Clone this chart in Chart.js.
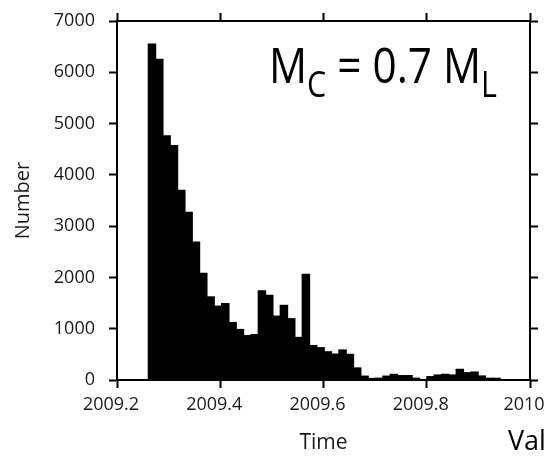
<!DOCTYPE html>
<html>
<head>
<meta charset="utf-8">
<script src="https://cdn.jsdelivr.net/npm/chart.js@4.4.1/dist/chart.umd.min.js"></script>
<style>
  html,body{margin:0;padding:0;background:#fff;}
  #wrap{width:548px;height:456px;position:relative;}
</style>
</head>
<body>
<div id="wrap"><canvas id="cv"></canvas></div>
<script>
// ===== 資料 =====
// 各 bin 的事件數
const counts = [6550, 6250, 4760, 4570, 3700, 3270, 2690, 2080, 1620, 1440,
                1490, 1120, 985, 865, 885, 1740, 1650, 1245, 1455, 1195,
                830, 2060, 670, 630, 550, 505, 585, 500, 235, 75,
                30, 35, 75, 110, 85, 85, 35, 8, 65, 97,
                110, 97, 208, 142, 155, 78, 33, 33];
const BIN_START = 2009.2606;   // 第一個 bin 左緣 (年)
const BIN_W = 0.0142;          // bin 寬 (年)
const xTicks = [2009.2, 2009.4, 2009.6, 2009.8, 2010];
const yTicks = [0, 1000, 2000, 3000, 4000, 5000, 6000, 7000];
const X_TITLE = 'Time', Y_TITLE = 'Number';
const NOTE = 'Val';

const binMid = counts.map((_, i) => BIN_START + (i + 0.5) * BIN_W);
const pts = counts.map((v, i) => ({ x: binMid[i], y: v }));

// ===== 文字外掛 =====
const FONT = '"Open Sans", sans-serif';
const labelPlugin = {
  id: 'labels',
  afterDraw(c) {
    const { ctx } = c;
    ctx.save();
    ctx.fillStyle = '#000';
    ctx.textBaseline = 'alphabetic';
    // M_C = 0.7 M_L
    const parts = [['M', 50, 83], ['C', 36, 97], [' = 0.7 M', 50, 83], ['L', 36, 97]];
    let w = 0;
    parts.forEach(([t, sz]) => { ctx.font = `${sz}px ${FONT}`; w += ctx.measureText(t).width; });
    const s = 228 / w;
    ctx.translate(269, 0); ctx.scale(s, 1);
    let x = 0;
    parts.forEach(([t, sz, y]) => { ctx.font = `${sz}px ${FONT}`; ctx.fillText(t, x, y); x += ctx.measureText(t).width; });
    ctx.restore();

    ctx.save();
    ctx.fillStyle = '#000';
    ctx.font = `27px ${FONT}`;
    ctx.translate(508, 450);
    ctx.fillText(NOTE, 0, 0);
    ctx.restore();
  }
};

// 固定軸的大小，並去掉標籤溢出造成的額外留白
const fixW = w => s => { s.width = w; s.paddingTop = 0; s.paddingBottom = 0; };
const fixH = h => s => { s.height = h; s.paddingLeft = 0; s.paddingRight = 0; };
const gridOpt = { offset: false, drawOnChartArea: false, drawTicks: true, tickLength: 8, tickWidth: 2, tickColor: '#000' };
const borderOpt = { display: true, color: '#000', width: 2 };

new Chart(document.getElementById('cv'), {
  type: 'bar',
  data: {
    datasets: [{ data: pts, backgroundColor: '#000', borderWidth: 0, inflateAmount: 0.6,
                 barPercentage: 1, categoryPercentage: 1 }]
  },
  options: {
    responsive: true, maintainAspectRatio: false, animation: false,
    layout: { padding: 0 },
    plugins: { legend: { display: false }, tooltip: { enabled: false } },
    scales: {
      x: {
        type: 'linear', position: 'bottom', min: 2009.2, max: 2010, offset: false,
        afterBuildTicks: s => { s.ticks = xTicks.map(v => ({ value: v })); },
        afterFit: fixH(76),
        grid: gridOpt, border: borderOpt,
        ticks: { color: '#1a1a1a', font: { family: 'Open Sans', size: 18 }, padding: 6, maxRotation: 0,
                 labelOffset: -6, callback: v => String(Math.round(v * 10) / 10) },
        title: { display: true, text: X_TITLE, color: '#1a1a1a', font: { family: 'Open Sans', size: 21 }, padding: { top: 0, bottom: 0 } }
      },
      x2: {
        type: 'linear', position: 'top', min: 2009.2, max: 2010, offset: false,
        afterBuildTicks: s => { s.ticks = xTicks.map(v => ({ value: v })); },
        afterFit: fixH(21),
        grid: gridOpt, border: borderOpt, ticks: { display: false }
      },
      y: {
        type: 'linear', position: 'left', min: 0, max: 7000,
        afterBuildTicks: s => { s.ticks = yTicks.map(v => ({ value: v })); },
        afterFit: fixW(117),
        grid: gridOpt, border: borderOpt,
        ticks: { color: '#1a1a1a', font: { family: 'Open Sans', size: 18 }, padding: 14, callback: v => String(v) },
        title: { display: true, text: Y_TITLE, color: '#1a1a1a', font: { family: 'Open Sans', size: 20 }, padding: { top: 11, bottom: 0 } }
      },
      y2: {
        type: 'linear', position: 'right', min: 0, max: 7000,
        afterBuildTicks: s => { s.ticks = yTicks.map(v => ({ value: v })); },
        afterFit: fixW(18),
        grid: gridOpt, border: borderOpt, ticks: { display: false }
      }
    }
  },
  plugins: [labelPlugin]
});
</script>
</body>
</html>
